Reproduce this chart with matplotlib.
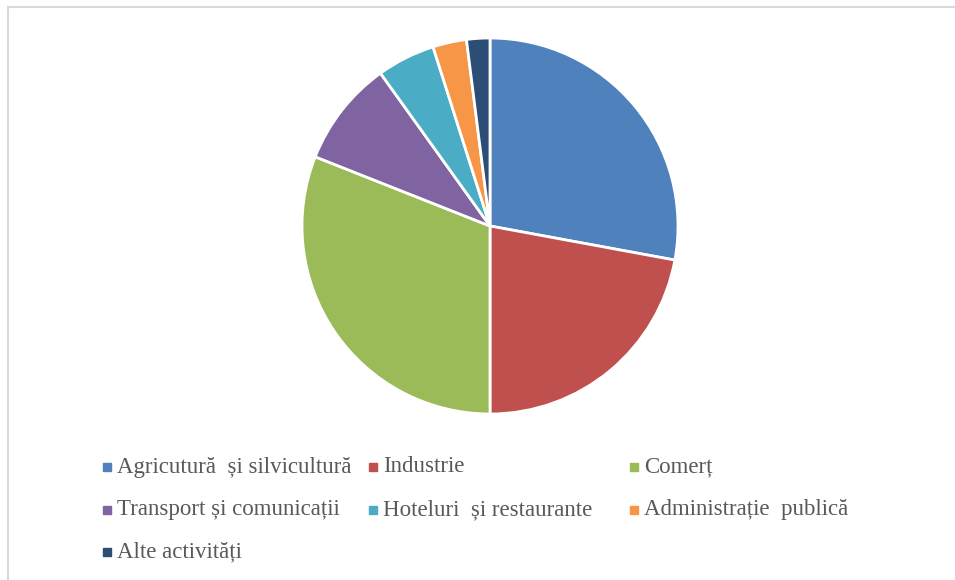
import matplotlib.pyplot as plt
from matplotlib.lines import Line2D

labels = ["Agricutură  și silvicultură", "Industrie", "Comerț",
          "Transport și comunicații", "Hoteluri  și restaurante",
          "Administrație  publică", "Alte activități"]
values = [27.9, 22.1, 31.0, 9.1, 5.0, 2.9, 2.0]
colors = ["#4F81BD", "#C0504D", "#9BBB59", "#8064A2", "#4BACC6", "#F79646", "#2C4D75"]

W, H = 955, 580
fig = plt.figure(figsize=(W / 100, H / 100), dpi=100)

# pie centred at (490, 226) px, radius ~188 px
cx, cy, r = 490, 226, 188
ax = fig.add_axes([(cx - r) / W, (H - cy - r) / H, 2 * r / W, 2 * r / H])
ax.pie(values, colors=colors, startangle=90, counterclock=False,
       wedgeprops=dict(edgecolor="white", linewidth=2))
ax.set_xlim(-1, 1)
ax.set_ylim(-1, 1)
ax.set_aspect("equal")
ax.axis("off")

# light frame, top and left only
fig.add_artist(Line2D([8 / W, 1], [1 - 7 / H, 1 - 7 / H], color="#d9d9d9", lw=1.5))
fig.add_artist(Line2D([8 / W, 8 / W], [0, 1 - 7 / H], color="#d9d9d9", lw=1.5))

# legend laid out row by row like the original
col_x = [107, 373, 634]
row_y = [467, 510, 552]
for i, (lab, col) in enumerate(zip(labels, colors)):
    x = col_x[i % 3]
    y = row_y[i // 3]
    fig.add_artist(Line2D([x / W], [1 - y / H], marker="s", markersize=6,
                          color=col, linestyle="none"))
    fig.text((x + 10) / W, 1 - y / H, lab, fontsize=16.5, family="Liberation Serif",
             color="#595959", va="center", ha="left")

fig.savefig("out.png", dpi=100)
